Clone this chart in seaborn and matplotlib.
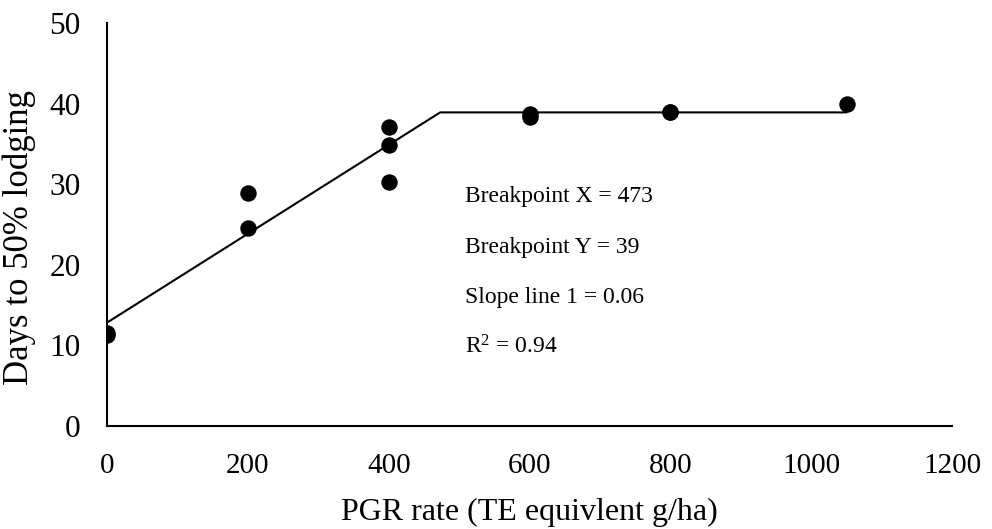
import matplotlib
matplotlib.use("Agg")
import matplotlib.pyplot as plt
import seaborn as sns
import pandas as pd

# data
pgr_rate = [0, 0, 200, 200, 400, 400, 400, 600, 600, 800, 800, 1050]
days_lodging = [11.3, 11.5, 28.9, 24.5, 37.1, 34.8, 30.3, 38.7, 38.3, 39.0, 38.9, 40.0]
fit_x = [0, 473, 1050]
fit_y = [12.8, 38.9, 38.9]
x_ticks = [0, 200, 400, 600, 800, 1000, 1200]
y_ticks = [0, 10, 20, 30, 40, 50]
annotations = ["Breakpoint X = 473", "Breakpoint Y = 39", "Slope line 1 = 0.06", "R$^{2}$ = 0.94"]

sns.set_theme(style="white")
plt.rcParams['font.family'] = ['Liberation Serif', 'DejaVu Serif']
plt.rcParams['mathtext.fontset'] = 'custom'
plt.rcParams['mathtext.rm'] = 'Liberation Serif'
plt.rcParams['mathtext.it'] = 'Liberation Serif'

fig = plt.figure(figsize=(9.92, 5.29), dpi=100)
ax = fig.add_axes([0.1079, 0.1953, 0.852, 0.7612])

pts = pd.DataFrame({"x": pgr_rate, "y": days_lodging})
fit = pd.DataFrame({"x": fit_x, "y": fit_y})
sns.lineplot(data=fit, x="x", y="y", ax=ax, color="black", linewidth=1.5, sort=False)
sns.scatterplot(data=pts, x="x", y="y", ax=ax, color="black", s=140, edgecolor="black", linewidth=0, zorder=3)

ax.set_xlim(0, 1200)
ax.set_ylim(0, 50)
ax.set_xticks(x_ticks)
ax.set_yticks(y_ticks)
ax.tick_params(axis="both", length=0, colors="black")
ax.tick_params(axis="x", pad=20, labelsize=21)
ax.tick_params(axis="y", pad=19, labelsize=22.5)
for s in ["top", "right"]:
    ax.spines[s].set_visible(False)
for s in ["left", "bottom"]:
    ax.spines[s].set_color("black")
    ax.spines[s].set_linewidth(1.5)
ax.set_xlabel("PGR rate (TE equivlent g/ha)", fontsize=23, color="black", labelpad=13)
ax.set_ylabel("Days to 50% lodging", fontsize=25, color="black")
ax.yaxis.set_label_coords(-0.084, 0.4665)
ax.grid(False)

ys = [27.8, 21.5, 15.2, 9.0]
for t, yv in zip(annotations, ys):
    ax.text(508, yv, t, fontsize=17, color="black", ha="left", va="baseline")

fig.savefig("out.png", dpi=100)
